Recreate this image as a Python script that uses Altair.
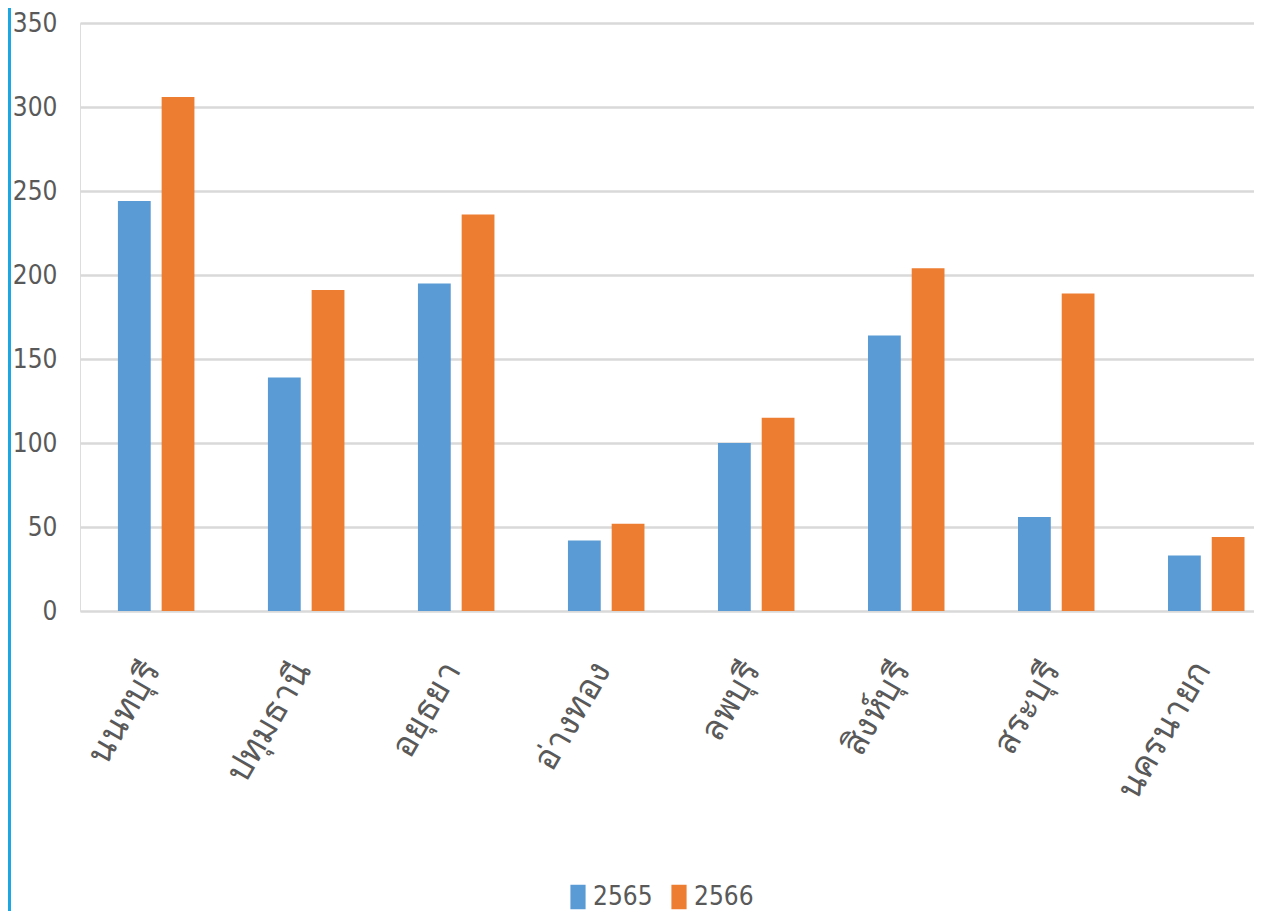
import altair as alt
import pandas as pd

provinces = ["นนทบุรี", "ปทุมธานี", "อยุธยา", "อ่างทอง", "ลพบุรี", "สิงห์บุรี", "สระบุรี", "นครนายก"]
years = ["2565", "2566"]
v2565 = [244, 139, 195, 42, 100, 164, 56, 33]
v2566 = [306, 191, 236, 52, 115, 204, 189, 44]
colors = ["#5b9bd5", "#ed7d31"]

rows = []
for p, a, b in zip(provinces, v2565, v2566):
    rows.append({"province": p, "year": years[0], "value": a})
    rows.append({"province": p, "year": years[1], "value": b})
df = pd.DataFrame(rows)

NUM_FONT = "DejaVu Sans Condensed, Liberation Sans Narrow, Roboto, sans-serif"
W, H = 1174, 588

bars = alt.Chart(df).mark_bar().encode(
    x=alt.X("province:N", sort=provinces, title=None,
            scale=alt.Scale(paddingInner=0.49, paddingOuter=0.158, align=0.8),
            axis=alt.Axis(labelAngle=-60, labelAlign="right", labelBaseline="middle",
                          labelFont="Noto Sans", labelFontSize=35, labelColor="#595959",
                          labelPadding=53, labelOffset=-4, ticks=False, domain=False,
                          grid=False, labelOverlap=False, labelLimit=300)),
    xOffset=alt.XOffset("year:N", sort=years, scale=alt.Scale(paddingInner=0.25)),
    y=alt.Y("value:Q", title=None,
            scale=alt.Scale(domain=[0, 350], nice=False),
            axis=alt.Axis(values=[0, 50, 100, 150, 200, 250, 300, 350],
                          labelFont=NUM_FONT, labelFontSize=26, labelColor="#595959",
                          labelPadding=23, ticks=False, domain=False,
                          gridColor="#d9d9d9", gridWidth=2.5)),
    color=alt.Color("year:N", sort=years, scale=alt.Scale(domain=years, range=colors),
                    legend=alt.Legend(title=None, orient="none", direction="horizontal",
                                      legendX=485, legendY=861,
                                      symbolType="M-0.62,-1H0.62V1H-0.62Z", symbolSize=600,
                                      symbolStrokeWidth=0, symbolOpacity=1,
                                      labelFont=NUM_FONT, labelFontSize=26,
                                      labelColor="#595959", columnPadding=13,
                                      labelOffset=2)),
)

edge = alt.Chart(pd.DataFrame({"a": [0]})).mark_rule(color="#1ba8e2", strokeWidth=3).encode(
    x=alt.value(-70.5), y=alt.value(-15), y2=alt.value(H + 300)
)

chart = alt.layer(bars, edge).properties(
    width=W, height=H,
    autosize=alt.AutoSizeParams(type="none"),
    padding={"left": 72, "top": 15, "right": 0, "bottom": 300},
).configure_view(stroke=None).configure(background="white")

chart.save("out.html", embed_options={"renderer": "svg", "actions": False})
